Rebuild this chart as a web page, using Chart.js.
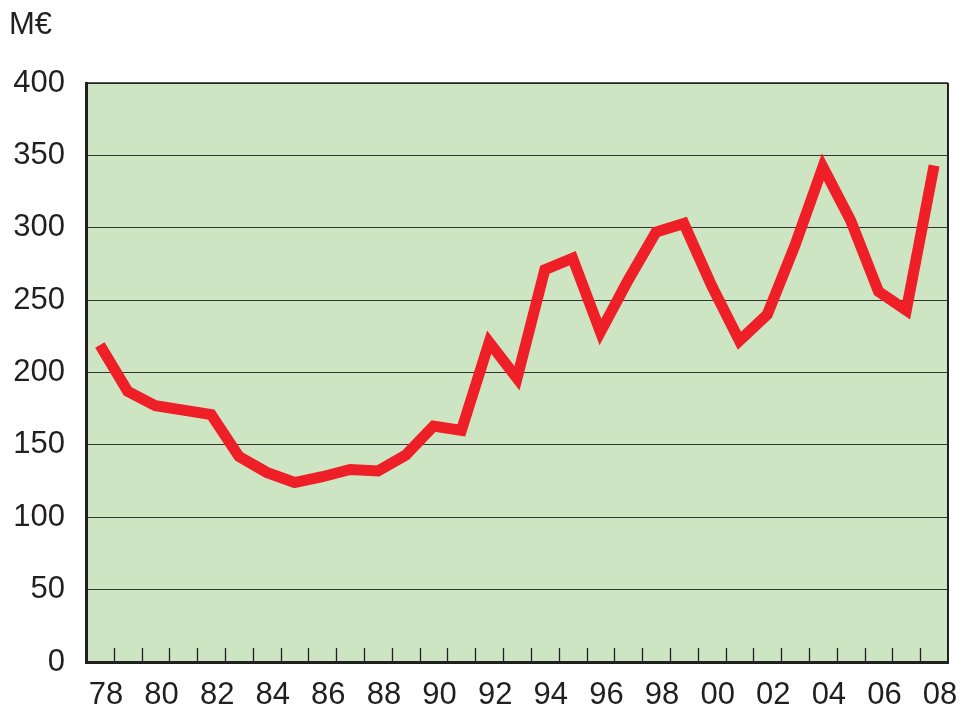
<!DOCTYPE html>
<html>
<head>
<meta charset="utf-8">
<script src="https://cdn.jsdelivr.net/npm/chart.js@4/dist/chart.umd.min.js"></script>
<style>
  html, body { margin: 0; padding: 0; background: #ffffff; }
  #wrap { width: 964px; height: 711px; position: relative; }
</style>
</head>
<body>
<div id="wrap"><canvas id="c" width="964" height="711"></canvas></div>
<script>
// Years (two-digit labels), 1978..2008
const years = ['78','79','80','81','82','83','84','85','86','87','88','89','90','91','92','93','94','95','96','97','98','99','00','01','02','03','04','05','06','07','08'];
// Values in M€
const values = [219, 187, 177, 174, 171, 142, 131, 124, 128, 133, 132, 143, 163, 160, 221, 196, 271, 279, 228, 264, 297, 303, 260, 222, 240, 288, 342, 305, 256, 243, 343];
// Y tick range
const yMin = 0, yMax = 400, yStep = 50;
const unitLabel = 'M€';

const textColor = '#231f20';
const fontFamily = '"Liberation Sans", Arial, Helvetica, sans-serif';
const fontSize = 31;

const framePlugin = {
  id: 'frame',
  beforeDraw(chart) {
    const { ctx, chartArea: a } = chart;
    ctx.save();
    ctx.fillStyle = '#cde5c3';
    ctx.fillRect(a.left, a.top, a.right - a.left, a.bottom - a.top);
    ctx.restore();
  },
  beforeDatasetsDraw(chart) {
    const { ctx, chartArea: a, scales } = chart;
    const xs = scales.x;
    ctx.save();
    ctx.strokeStyle = textColor;
    ctx.lineWidth = 1.5;
    ctx.beginPath();
    ctx.moveTo(a.left, a.top);
    ctx.lineTo(a.right, a.top);
    ctx.stroke();
    ctx.lineWidth = 2;
    ctx.beginPath();
    ctx.moveTo(a.right, a.top);
    ctx.lineTo(a.right, a.bottom);
    ctx.stroke();
    const band = xs.getPixelForValue(1) - xs.getPixelForValue(0);
    ctx.lineWidth = 1.3;
    ctx.beginPath();
    for (let i = 1; i < years.length; i++) {
      const x = Math.round(xs.getPixelForValue(i) - band / 2) + 0.5;
      ctx.moveTo(x, a.bottom);
      ctx.lineTo(x, a.bottom - 14);
    }
    ctx.stroke();
    ctx.restore();
  },
  afterDraw(chart) {
    const { ctx } = chart;
    ctx.save();
    ctx.fillStyle = textColor;
    ctx.font = fontSize + 'px ' + fontFamily;
    ctx.textBaseline = 'alphabetic';
    ctx.textAlign = 'left';
    ctx.fillText(unitLabel, 9, 34);
    ctx.restore();
  }
};

new Chart(document.getElementById('c'), {
  type: 'line',
  data: {
    labels: years,
    datasets: [{
      data: values,
      borderColor: '#ee1f26',
      borderWidth: 11,
      pointRadius: 0,
      tension: 0,
      borderJoinStyle: 'miter',
      borderCapStyle: 'butt',
      fill: false
    }]
  },
  options: {
    responsive: false,
    animation: false,
    layout: { padding: { top: 83, right: 16, left: 0, bottom: 0 } },
    plugins: { legend: { display: false }, tooltip: { enabled: false }, title: { display: false } },
    scales: {
      x: {
        type: 'category',
        offset: true,
        afterFit(scale) { scale.height = 49; scale.paddingLeft = 0; scale.paddingRight = 0; },
        grid: { display: false, offset: true, drawTicks: false },
        border: { display: true, width: 3, color: textColor },
        ticks: {
          autoSkip: false,
          maxRotation: 0,
          padding: 15,
          labelOffset: 6,
          color: textColor,
          font: { family: fontFamily, size: fontSize },
          callback(v, i) { return i % 2 === 0 ? years[i] : ''; }
        }
      },
      y: {
        min: yMin,
        max: yMax,
        afterFit(scale) { scale.width = 86; scale.paddingTop = 0; scale.paddingBottom = 0; },
        grid: { color: '#333333', lineWidth: 1, drawTicks: false },
        border: { display: true, width: 3, color: textColor },
        ticks: {
          stepSize: yStep,
          padding: 21,
          color: textColor,
          font: { family: fontFamily, size: fontSize }
        }
      }
    }
  },
  plugins: [framePlugin]
});
</script>
</body>
</html>
